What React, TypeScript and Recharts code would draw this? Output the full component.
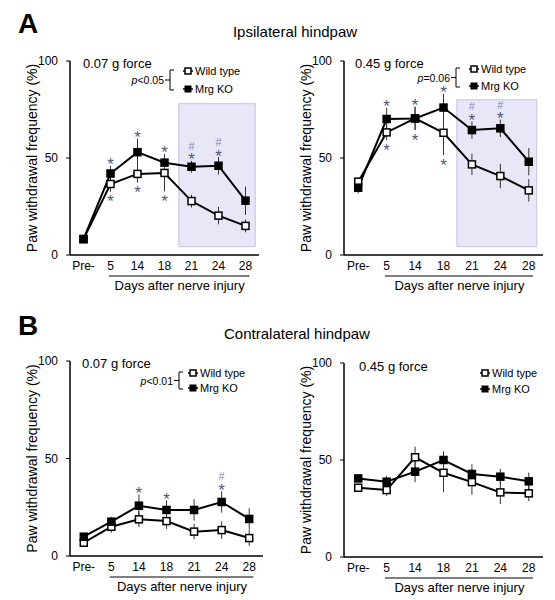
import React from 'react';
import { LineChart, Line, XAxis, YAxis, ErrorBar, ReferenceArea } from 'recharts';

const FONT = '"Liberation Sans", Arial, sans-serif';
const DAYS = ['Pre-', '5', '14', '18', '21', '24', '28'];

// A, ipsilateral, 0.07 g
const wtA07 = [8.2, 36.6, 41.8, 42.3, 27.8, 20.3, 15];
const wtA07Err = [1.5, 4, 4.5, 9.5, 3.3, 4.5, 3.3];
const koA07 = [8.2, 42, 53, 47.6, 45.5, 46, 28];
const koA07Err = [1.5, 4, 7, 4.5, 3, 4.5, 7.3];
const wtA07Marks = ['', '*', '*', '*', '', '', ''];
const koA07Marks = ['', '*', '*', '*', '#*', '#*', ''];

// A, ipsilateral, 0.45 g
const wtA45 = [37.8, 63.2, 70.4, 63, 46.7, 40.7, 33.3];
const wtA45Err = [1.5, 4, 6, 11.5, 5.5, 6.3, 5.8];
const koA45 = [34.7, 70.1, 70.4, 76, 64.4, 65.3, 48.1];
const koA45Err = [3, 5.8, 6, 7, 4.5, 4.5, 7];
const wtA45Marks = ['', '*', '*', '*', '', '', ''];
const koA45Marks = ['', '*', '*', '*', '#*', '#*', ''];

// B, contralateral, 0.07 g
const wtB07 = [6.8, 15, 18.8, 17.9, 12.5, 13.3, 9.2];
const wtB07Err = [1.5, 3, 4, 4, 4, 4.5, 4];
const koB07 = [9.9, 17.6, 25.8, 23.6, 23.6, 27.7, 19];
const koB07Err = [1.5, 2.5, 5.8, 5, 5.5, 5.5, 5.5];
const wtB07Marks = ['', '', '', '', '', '', ''];
const koB07Marks = ['', '', '*', '*', '', '#*', ''];

// B, contralateral, 0.45 g
const wtB45 = [35.7, 34.5, 51.4, 43.4, 38.6, 33.3, 32.8];
const wtB45Err = [1.5, 3, 5.5, 10, 6.5, 6, 4];
const koB45 = [40.5, 38.8, 44, 50, 42.8, 41.4, 39];
const koB45Err = [2, 3, 5.5, 4.5, 5, 4, 4.5];
const noMarks = ['', '', '', '', '', '', ''];

const SHADE_A07 = { x1: 3.53, x2: 6.36, y1: 4.3, y2: 78 };
const SHADE_A45 = { x1: 3.47, x2: 6.28, y1: 4.3, y2: 80 };

const STAR_COLOR = '#55557c';
const HASH_COLOR = '#8a8aae';

function makeDot(filled: boolean, marks: string[], errs: number[], k: number, above: boolean) {
  return (props: any) => {
    const { cx, cy, index } = props;
    if (cx == null || cy == null) return <g key={`e-${index}`} />;
    const s = 7;
    const m = marks[index] || '';
    const e = errs[index] * k;
    const starC = above ? cy - e - 5 : cy + e + 6;
    return (
      <g key={`d-${index}`}>
        <rect x={cx - s / 2} y={cy - s / 2} width={s} height={s} fill={filled ? '#000' : '#fff'} stroke="#000" strokeWidth={1.5} />
        {m.includes('*') && (
          <text x={cx} y={starC + 9.5} textAnchor="middle" fontSize={17} fill={STAR_COLOR} fontFamily={FONT}>*</text>
        )}
        {m.includes('#') && (
          <text x={cx} y={starC - 10 + 4} textAnchor="middle" fontSize={11} fill={HASH_COLOR} fontFamily={FONT}>#</text>
        )}
      </g>
    );
  };
}

function XLabelContent(props: any) {
  const { x, y, width } = props.viewBox;
  const band = width / 7;
  return (
    <g>
      <line x1={x + band * 1.44} x2={x + band * 6.65} y1={y + 21} y2={y + 21} stroke="#000" strokeWidth={1} />
      <text x={x + width * 0.58} y={y + 35} textAnchor="middle" fontSize={13} fontFamily={FONT} fill="#000">
        Days after nerve injury
      </text>
    </g>
  );
}

function YLabelContent(props: any) {
  const { x, y, width, height } = props.viewBox;
  const cx = x + width - 38;
  const cy = y + height / 2;
  return (
    <text x={cx} y={cy} transform={`rotate(-90 ${cx} ${cy})`} textAnchor="middle" dominantBaseline="central" fontSize={14} fontFamily={FONT} fill="#000">
      Paw withdrawal frequency (%)
    </text>
  );
}

function LegendBox({ sq, r1, r2, bracket, p }: any) {
  const mid = (r1 + r2) / 2;
  return (
    <g fontFamily={FONT} fontSize={11} fill="#000">
      <line x1={sq - 5} x2={sq + 5} y1={r1} y2={r1} stroke="#000" strokeWidth={1.5} />
      <rect x={sq - 3} y={r1 - 3} width={6} height={6} fill="#fff" stroke="#000" strokeWidth={1.5} />
      <text x={sq + 7} y={r1 + 4}>Wild type</text>
      <line x1={sq - 5} x2={sq + 5} y1={r2} y2={r2} stroke="#000" strokeWidth={1.5} />
      <rect x={sq - 3.5} y={r2 - 3.5} width={7} height={7} fill="#000" />
      <text x={sq + 7} y={r2 + 4}>Mrg KO</text>
      {bracket != null && (
        <g>
          <path d={`M${bracket + 4} ${r1 - 1} L${bracket} ${r1 - 1} L${bracket} ${r2 + 1} L${bracket + 4} ${r2 + 1}`} fill="none" stroke="#000" strokeWidth={1} />
          <line x1={bracket - 5} x2={bracket} y1={mid} y2={mid} stroke="#000" strokeWidth={1} />
          <text x={bracket - 6} y={mid + 4} textAnchor="end" fontSize={10.5}>
            <tspan fontStyle="italic">p</tspan>
            {p}
          </text>
        </g>
      )}
    </g>
  );
}

const panels = [
  {
    key: 'a07', left: 0, top: 0, width: 275, height: 300,
    margin: { top: 61, right: 16, left: 0, bottom: 0 }, yw: 70, xh: 45,
    wt: wtA07, wtErr: wtA07Err, ko: koA07, koErr: koA07Err, wtMarks: wtA07Marks, koMarks: koA07Marks,
    shade: SHADE_A07, force: '0.07 g force', fx: 83, fy: 68,
    legend: { sq: 188, r1: 71, r2: 89, bracket: 170, p: '<0.05' },
  },
  {
    key: 'a45', left: 275, top: 0, width: 280, height: 300,
    margin: { top: 61, right: 12, left: 0, bottom: 0 }, yw: 69, xh: 45,
    wt: wtA45, wtErr: wtA45Err, ko: koA45, koErr: koA45Err, wtMarks: wtA45Marks, koMarks: koA45Marks,
    shade: SHADE_A45, force: '0.45 g force', fx: 80, fy: 68,
    legend: { sq: 199, r1: 69, r2: 86, bracket: 181, p: '=0.06' },
  },
  {
    key: 'b07', left: 0, top: 300, width: 275, height: 300,
    margin: { top: 61, right: 12, left: 0, bottom: 0 }, yw: 70, xh: 44,
    wt: wtB07, wtErr: wtB07Err, ko: koB07, koErr: koB07Err, wtMarks: wtB07Marks, koMarks: koB07Marks,
    shade: null, force: '0.07 g force', fx: 82, fy: 68,
    legend: { sq: 193, r1: 73, r2: 88, bracket: 179, p: '<0.01' },
  },
  {
    key: 'b45', left: 275, top: 300, width: 280, height: 300,
    margin: { top: 63, right: 12, left: 0, bottom: 0 }, yw: 69, xh: 43,
    wt: wtB45, wtErr: wtB45Err, ko: koB45, koErr: koB45Err, wtMarks: noMarks, koMarks: noMarks,
    shade: null, force: '0.45 g force', fx: 84, fy: 71,
    legend: { sq: 210, r1: 73, r2: 89, bracket: null, p: '' },
  },
];

function Panel({ cfg }: any) {
  const data = DAYS.map((d, i) => ({
    i, day: d, wt: cfg.wt[i], wtErr: cfg.wtErr[i], ko: cfg.ko[i], koErr: cfg.koErr[i],
  }));
  const plotH = cfg.height - cfg.margin.top - cfg.margin.bottom - cfg.xh;
  const k = plotH / 100;
  return (
    <div style={{ position: 'absolute', left: cfg.left, top: cfg.top, width: cfg.width, height: cfg.height }}>
      <LineChart width={cfg.width} height={cfg.height} data={data} margin={cfg.margin}>
        {cfg.shade && (
          <ReferenceArea
            x1={cfg.shade.x1} x2={cfg.shade.x2} y1={cfg.shade.y1} y2={cfg.shade.y2}
            fill="#e7e7f8" fillOpacity={1} stroke="#c4c4e0" strokeWidth={1} ifOverflow="visible"
          />
        )}
        <XAxis
          type="number" dataKey="i" domain={[-0.5, 6.5]} ticks={[0, 1, 2, 3, 4, 5, 6]} interval={0}
          tickFormatter={(v: number) => DAYS[v]} tickLine={false} tickSize={4} height={cfg.xh}
          axisLine={{ stroke: '#000', strokeWidth: 1.5 }}
          tick={{ fill: '#000', fontSize: 12, fontFamily: FONT }}
          label={(p: any) => <XLabelContent {...p} />}
        />
        <YAxis
          type="number" domain={[0, 100]} ticks={[0, 50, 100]} width={cfg.yw} tickSize={4} tickMargin={8}
          axisLine={{ stroke: '#000', strokeWidth: 1.5 }} tickLine={{ stroke: '#000', strokeWidth: 1 }}
          tick={{ fill: '#000', fontSize: 12, fontFamily: FONT }}
          label={(p: any) => <YLabelContent {...p} />}
        />
        <Line
          dataKey="wt" stroke="#000" strokeWidth={2} isAnimationActive={false}
          dot={makeDot(false, cfg.wtMarks, cfg.wtErr, k, false)} activeDot={false}
        >
          <ErrorBar dataKey="wtErr" direction="y" width={0} stroke="#333" strokeWidth={1} />
        </Line>
        <Line
          dataKey="ko" stroke="#000" strokeWidth={2} isAnimationActive={false}
          dot={makeDot(true, cfg.koMarks, cfg.koErr, k, true)} activeDot={false}
        >
          <ErrorBar dataKey="koErr" direction="y" width={0} stroke="#333" strokeWidth={1} />
        </Line>
      </LineChart>
      <svg width={cfg.width} height={cfg.height} style={{ position: 'absolute', left: 0, top: 0, pointerEvents: 'none' }}>
        <text x={cfg.fx} y={cfg.fy} fontSize={13} fontFamily={FONT} fill="#000">{cfg.force}</text>
        <LegendBox {...cfg.legend} />
      </svg>
    </div>
  );
}

export default function App() {
  return (
    <div style={{ position: 'absolute', left: 0, top: 0, width: 555, height: 600, background: '#fff', fontFamily: FONT }}>
      {panels.map((p) => (
        <Panel key={p.key} cfg={p} />
      ))}
      <svg width={555} height={600} style={{ position: 'absolute', left: 0, top: 0, pointerEvents: 'none' }}>
        <text x={18} y={33} fontSize={28} fontWeight="bold" fontFamily={FONT} fill="#000">A</text>
        <text x={295} y={37} fontSize={15} textAnchor="middle" fontFamily={FONT} fill="#000">Ipsilateral hindpaw</text>
        <text x={18} y={335} fontSize={28} fontWeight="bold" fontFamily={FONT} fill="#000">B</text>
        <text x={297} y={339} fontSize={15} textAnchor="middle" fontFamily={FONT} fill="#000">Contralateral hindpaw</text>
      </svg>
    </div>
  );
}
